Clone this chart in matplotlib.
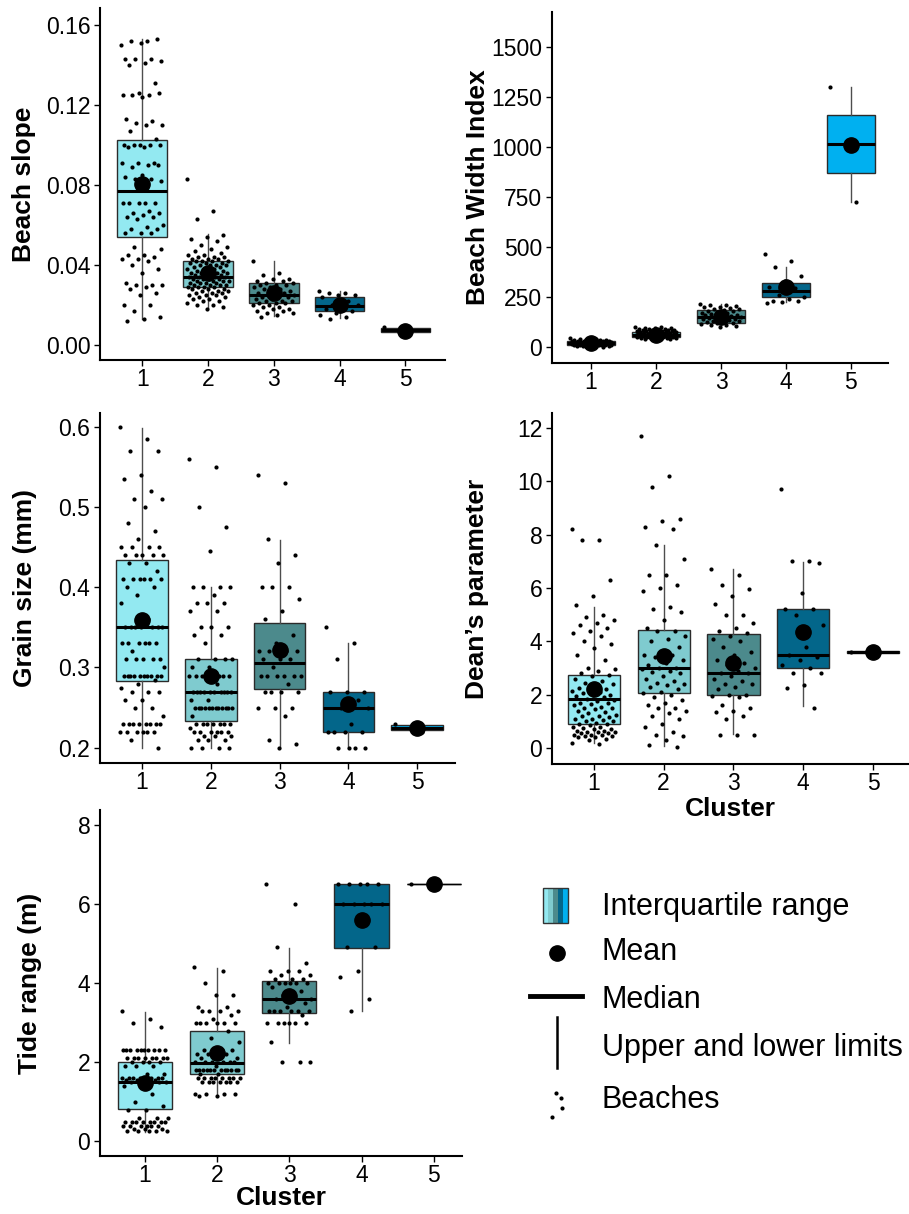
import matplotlib
matplotlib.use("Agg")
import matplotlib.pyplot as plt
import numpy as np

plt.rcParams['font.family'] = ['Liberation Sans', 'DejaVu Sans']

clusters = [1, 2, 3, 4, 5]
box_colors = ["#93E9F1", "#7FCBCF", "#4C8A8C", "#03668A", "#00B0F0"]

# ---- Beach slope ----
slope_pts = [
    [0.150, 0.152, 0.152, 0.153, 0.151, 0.143, 0.143, 0.143, 0.142, 0.141, 0.140, 0.131, 0.126, 0.125,
     0.125, 0.125, 0.126, 0.124, 0.113, 0.112, 0.111, 0.110, 0.110, 0.107, 0.103, 0.100, 0.100, 0.100,
     0.100, 0.100, 0.099, 0.099, 0.091, 0.091, 0.091, 0.090, 0.089, 0.090, 0.085, 0.084, 0.083, 0.083,
     0.082, 0.071, 0.071, 0.071, 0.071, 0.071, 0.067, 0.066, 0.066, 0.065, 0.064, 0.064, 0.063, 0.060,
     0.059, 0.058, 0.058, 0.056, 0.056, 0.056, 0.049, 0.048, 0.045, 0.045, 0.044, 0.043, 0.043, 0.042,
     0.040, 0.038, 0.036, 0.031, 0.030, 0.030, 0.030, 0.029, 0.028, 0.026, 0.025, 0.020, 0.020, 0.017,
     0.014, 0.013, 0.012],
    [0.083, 0.067, 0.063, 0.055, 0.054, 0.053, 0.052, 0.050, 0.049, 0.048, 0.047, 0.046, 0.045, 0.045,
     0.044, 0.044, 0.044, 0.043, 0.043, 0.043, 0.042, 0.042, 0.042, 0.042, 0.041, 0.041, 0.041, 0.040,
     0.040, 0.040, 0.040, 0.039, 0.039, 0.038, 0.038, 0.038, 0.037, 0.037, 0.037, 0.036, 0.036, 0.036,
     0.036, 0.035, 0.035, 0.035, 0.035, 0.034, 0.034, 0.034, 0.034, 0.033, 0.033, 0.033, 0.033, 0.032,
     0.032, 0.032, 0.032, 0.031, 0.031, 0.031, 0.031, 0.030, 0.030, 0.030, 0.030, 0.029, 0.029, 0.029,
     0.029, 0.028, 0.028, 0.028, 0.027, 0.027, 0.027, 0.026, 0.026, 0.026, 0.025, 0.025, 0.025, 0.024,
     0.024, 0.023, 0.023, 0.022, 0.022, 0.021, 0.020, 0.020, 0.019, 0.018],
    [0.042, 0.036, 0.035, 0.033, 0.033, 0.032, 0.032, 0.031, 0.031, 0.030, 0.030, 0.030, 0.029, 0.029,
     0.028, 0.028, 0.027, 0.027, 0.026, 0.026, 0.025, 0.025, 0.025, 0.024, 0.024, 0.023, 0.023, 0.022,
     0.022, 0.022, 0.021, 0.021, 0.021, 0.020, 0.020, 0.019, 0.019, 0.018, 0.018, 0.017, 0.017, 0.016,
     0.016, 0.015, 0.014],
    [0.027, 0.026, 0.026, 0.025, 0.025, 0.024, 0.022, 0.020, 0.020, 0.019, 0.018, 0.017, 0.016, 0.015,
     0.014, 0.013],
    [0.009, 0.007],
]
slope_q1 = [0.054, 0.029, 0.021, 0.017, 0.0065]
slope_med = [0.077, 0.034, 0.025, 0.0195, 0.0075]
slope_q3 = [0.1025, 0.042, 0.031, 0.024, 0.0085]
slope_lo = [0.013, 0.0185, 0.0145, 0.0135, 0.0065]
slope_hi = [0.153, 0.0555, 0.042, 0.027, 0.0085]
slope_mean = [0.0807, 0.036, 0.026, 0.020, 0.007]

# ---- Beach Width Index ----
width_pts = [
    [45, 40, 38, 36, 35, 34, 33, 32, 31, 30, 30, 29, 28, 28, 27, 27, 26, 26, 25, 25, 25, 24, 24, 23, 23,
     22, 22, 22, 21, 21, 21, 20, 20, 20, 20, 19, 19, 19, 18, 18, 18, 17, 17, 17, 16, 16, 15, 15, 15, 14,
     14, 13, 13, 12, 12, 11, 11, 10, 10, 9, 9, 8, 7, 6, 5, 4, 2, 0],
    [100, 98, 96, 95, 93, 92, 90, 88, 87, 86, 85, 84, 82, 81, 80, 79, 78, 77, 76, 75, 74, 73, 72, 71, 70,
     70, 69, 68, 67, 66, 65, 64, 63, 62, 61, 60, 60, 59, 58, 57, 56, 55, 55, 54, 53, 52, 51, 50, 50, 49,
     48, 47, 46, 45, 44, 43, 42, 41, 40],
    [215, 212, 210, 205, 200, 198, 195, 190, 188, 185, 182, 180, 176, 172, 170, 166, 162, 160, 158, 155,
     152, 150, 148, 145, 142, 140, 138, 135, 132, 130, 127, 124, 122, 118, 115, 112, 108, 104, 100],
    [465, 430, 400, 355, 330, 300, 295, 260, 250, 240, 232, 230, 225, 222],
    [1300, 725],
]
width_q1 = [10, 48, 122, 252, 868]
width_med = [20, 60, 152, 280, 1015]
width_q3 = [30, 77, 185, 318, 1160]
width_lo = [0, 40, 100, 227, 727]
width_hi = [45, 100, 215, 400, 1302]
width_mean = [20, 60, 150, 298, 1012]

# ---- Grain size ----
grain_pts = [
    [0.60, 0.585, 0.57, 0.57, 0.54, 0.535, 0.52, 0.51, 0.51, 0.50, 0.48, 0.47, 0.46, 0.45, 0.45, 0.45,
     0.45, 0.44, 0.44, 0.44, 0.44, 0.44, 0.43, 0.43, 0.42, 0.41, 0.41, 0.41, 0.41, 0.41, 0.41, 0.40, 0.40,
     0.39, 0.38, 0.36, 0.35, 0.35, 0.35, 0.35, 0.35, 0.35, 0.35, 0.33, 0.33, 0.33, 0.33, 0.33, 0.33, 0.32,
     0.31, 0.31, 0.31, 0.31, 0.31, 0.30, 0.29, 0.29, 0.29, 0.29, 0.29, 0.29, 0.29, 0.29, 0.29, 0.29,
     0.285, 0.28, 0.275, 0.27, 0.27, 0.27, 0.26, 0.26, 0.25, 0.25, 0.24, 0.23, 0.23, 0.23, 0.23, 0.23,
     0.23, 0.23, 0.23, 0.22, 0.22, 0.22, 0.22, 0.22, 0.22, 0.21, 0.20],
    [0.56, 0.55, 0.50, 0.475, 0.445, 0.40, 0.40, 0.40, 0.40, 0.39, 0.38, 0.38, 0.38, 0.37, 0.37, 0.35,
     0.35, 0.35, 0.34, 0.34, 0.33, 0.31, 0.31, 0.31, 0.31, 0.30, 0.30, 0.29, 0.29, 0.29, 0.29, 0.29, 0.29,
     0.29, 0.29, 0.28, 0.27, 0.27, 0.27, 0.27, 0.27, 0.27, 0.27, 0.27, 0.27, 0.27, 0.26, 0.26, 0.25, 0.25,
     0.25, 0.25, 0.25, 0.25, 0.25, 0.25, 0.25, 0.25, 0.25, 0.25, 0.24, 0.23, 0.23, 0.23, 0.23, 0.23, 0.23,
     0.23, 0.225, 0.22, 0.22, 0.22, 0.22, 0.22, 0.22, 0.215, 0.215, 0.215, 0.21, 0.21, 0.21, 0.20, 0.20,
     0.20, 0.20],
    [0.54, 0.53, 0.46, 0.44, 0.43, 0.40, 0.40, 0.40, 0.385, 0.37, 0.36, 0.34, 0.33, 0.32, 0.32, 0.32,
     0.32, 0.31, 0.31, 0.31, 0.30, 0.29, 0.29, 0.29, 0.29, 0.29, 0.29, 0.28, 0.27, 0.27, 0.27, 0.27, 0.25,
     0.25, 0.25, 0.24, 0.21, 0.205, 0.20],
    [0.35, 0.33, 0.31, 0.27, 0.27, 0.27, 0.26, 0.25, 0.25, 0.23, 0.22, 0.22, 0.22, 0.22, 0.20, 0.20, 0.20,
     0.20],
    [0.23, 0.22],
]
grain_q1 = [0.283, 0.233, 0.273, 0.220, 0.222]
grain_med = [0.350, 0.270, 0.305, 0.250, 0.225]
grain_q3 = [0.434, 0.310, 0.355, 0.270, 0.228]
grain_lo = [0.20, 0.20, 0.20, 0.20, 0.222]
grain_hi = [0.598, 0.40, 0.459, 0.33, 0.228]
grain_mean = [0.359, 0.289, 0.322, 0.254, 0.225]

# ---- Dean's parameter ----
dean_pts = [
    [8.2, 7.8, 7.8, 6.3, 5.7, 5.35, 5.0, 4.9, 4.8, 4.7, 4.6, 4.5, 4.4, 4.3, 4.2, 4.0, 3.9, 3.75, 3.5, 3.3,
     3.0, 2.95, 2.9, 2.8, 2.75, 2.7, 2.6, 2.5, 2.45, 2.4, 2.3, 2.25, 2.2, 2.2, 2.15, 2.1, 2.05, 2.0, 2.0,
     1.95, 1.9, 1.85, 1.8, 1.75, 1.7, 1.7, 1.65, 1.6, 1.55, 1.5, 1.5, 1.45, 1.4, 1.35, 1.3, 1.25, 1.2,
     1.2, 1.15, 1.1, 1.1, 1.05, 1.0, 1.0, 0.95, 0.9, 0.9, 0.85, 0.8, 0.8, 0.75, 0.7, 0.7, 0.65, 0.65,
     0.6, 0.6, 0.6, 0.55, 0.55, 0.5, 0.5, 0.5, 0.45, 0.45, 0.4, 0.4, 0.35, 0.3, 0.2, 0.15],
    [11.7, 10.2, 9.8, 8.6, 8.5, 8.3, 8.2, 7.6, 7.1, 6.5, 6.5, 6.1, 6.0, 5.9, 5.3, 5.2, 5.1, 4.8, 4.5,
     4.4, 4.4, 4.2, 4.1, 4.0, 3.8, 3.6, 3.5, 3.5, 3.4, 3.3, 3.2, 3.1, 3.0, 3.0, 2.95, 2.9, 2.85, 2.8, 2.7,
     2.6, 2.5, 2.45, 2.4, 2.35, 2.3, 2.2, 2.1, 2.05, 2.0, 1.9, 1.8, 1.7, 1.6, 1.5, 1.5, 1.4, 1.3, 1.2,
     1.1, 0.9, 0.8, 0.6, 0.5, 0.45, 0.3, 0.1, 0.05],
    [6.7, 6.5, 6.1, 5.95, 5.7, 5.4, 5.0, 5.0, 4.7, 4.5, 4.4, 4.3, 4.2, 4.1, 4.0, 3.8, 3.6, 3.5, 3.3,
     3.2, 3.1, 3.0, 2.9, 2.8, 2.8, 2.7, 2.6, 2.5, 2.4, 2.4, 2.3, 2.2, 2.0, 2.0, 1.95, 1.9, 1.6, 1.5, 1.4,
     1.35, 1.2, 1.1, 0.5, 0.5, 0.5],
    [9.7, 7.0, 7.0, 6.95, 5.8, 5.2, 5.2, 5.0, 4.6, 3.8, 3.5, 3.4, 3.3, 3.1, 3.0, 2.8, 2.8, 2.35, 2.25,
     1.5],
    [3.6],
]
dean_q1 = [0.90, 2.05, 1.99, 3.00, 3.56]
dean_med = [1.85, 2.99, 2.80, 3.48, 3.59]
dean_q3 = [2.75, 4.44, 4.29, 5.20, 3.62]
dean_lo = [0.19, 0.06, 0.52, 1.56, 3.56]
dean_hi = [5.30, 7.60, 6.71, 6.98, 3.62]
dean_mean = [2.22, 3.46, 3.19, 4.34, 3.59]

# ---- Tide range ----
tide_pts = [
    [3.3, 3.1, 3.0, 2.9, 2.3, 2.3, 2.3, 2.3, 2.3, 2.3, 2.3, 2.3, 2.3, 2.3, 2.1, 2.1, 2.1, 2.1, 2.1, 2.1,
     2.1, 2.1, 2.0, 2.0, 2.0, 2.0, 1.9, 1.9, 1.9, 1.7, 1.7, 1.6, 1.6, 1.6, 1.6, 1.6, 1.6, 1.6, 1.6, 1.55,
     1.55, 1.55, 1.5, 1.5, 1.5, 1.5, 1.5, 1.4, 1.2, 1.0, 0.9, 0.8, 0.8, 0.6, 0.6, 0.6, 0.5, 0.5, 0.5,
     0.5, 0.5, 0.5, 0.5, 0.5, 0.4, 0.4, 0.4, 0.4, 0.4, 0.4, 0.3, 0.3, 0.3, 0.25, 0.25, 0.25, 0.25, 0.25],
    [4.4, 4.3, 4.0, 3.7, 3.7, 3.4, 3.4, 3.3, 3.3, 3.3, 3.3, 3.2, 3.1, 3.0, 3.0, 3.0, 3.0, 3.0, 3.0, 2.8,
     2.6, 2.5, 2.3, 2.3, 2.3, 2.2, 2.2, 2.2, 2.2, 2.1, 2.1, 2.1, 2.0, 2.0, 2.0, 2.0, 2.0, 2.0, 1.9, 1.8,
     1.8, 1.8, 1.8, 1.8, 1.8, 1.8, 1.8, 1.8, 1.8, 1.8, 1.8, 1.7, 1.7, 1.6, 1.6, 1.6, 1.6, 1.6, 1.6, 1.6,
     1.6, 1.5, 1.5, 1.5, 1.5, 1.5, 1.5, 1.5, 1.2, 1.2, 1.2, 1.2, 1.15, 1.15],
    [6.5, 6.0, 4.9, 4.5, 4.3, 4.3, 4.3, 4.2, 4.2, 4.1, 4.1, 4.1, 4.0, 4.0, 4.0, 4.0, 4.0, 4.0, 3.9, 3.8,
     3.7, 3.6, 3.6, 3.6, 3.5, 3.4, 3.3, 3.3, 3.3, 3.3, 3.3, 3.3, 3.2, 3.0, 3.0, 3.0, 3.0, 3.0, 3.0, 2.5,
     2.0, 2.0, 2.0],
    [6.5, 6.5, 6.5, 6.5, 6.5, 6.0, 6.0, 6.0, 6.0, 6.0, 4.9, 4.9, 4.3, 4.15, 3.6, 3.3],
    [6.5, 6.5],
]
tide_q1 = [0.81, 1.71, 3.24, 4.88, 6.5]
tide_med = [1.50, 1.99, 3.60, 5.99, 6.5]
tide_q3 = [2.00, 2.80, 4.04, 6.49, 6.5]
tide_lo = [0.23, 1.19, 2.49, 3.30, 6.5]
tide_hi = [3.28, 4.39, 4.88, 6.50, 6.5]
tide_mean = [1.48, 2.23, 3.68, 5.60, 6.5]

W, H = 909, 1214
fig = plt.figure(figsize=(W / 100, H / 100), dpi=100)


def px_axes(left, top, right, bottom):
    return fig.add_axes([left / W, 1 - bottom / H, (right - left) / W, (bottom - top) / H])


def jitter(n, w=0.32):
    return (((np.arange(n) * 0.618034) % 1.0) - 0.5) * 2 * w


def panel(ax, pts, q1, med, q3, lo, hi, mean, ylabel, yticks, yticklabels, ylim, xlim,
          label_x, xlabel=None, xlabel_pad=0, last_thin=False):
    stats = []
    for i in range(5):
        stats.append(dict(med=med[i], q1=q1[i], q3=q3[i], whislo=lo[i], whishi=hi[i], fliers=[]))
    b = ax.bxp(stats, positions=clusters, widths=0.75, patch_artist=True, showcaps=False,
               boxprops=dict(edgecolor="#2b2b2b", linewidth=1.0),
               whiskerprops=dict(color="#4d4d4d", linewidth=1.0),
               medianprops=dict(color="black", linewidth=2.2))
    for patch, c in zip(b["boxes"], box_colors):
        patch.set_facecolor(c)
    if last_thin:
        b["medians"][4].set_linewidth(1.0)
        b["boxes"][4].set_edgecolor("black")
    for i, vals in enumerate(pts):
        x = clusters[i] + jitter(len(vals))
        ax.scatter(x, vals, s=9, color="black", linewidths=0, zorder=4)
    ax.plot(clusters, mean, "o", color="black", markersize=11, zorder=5, linestyle="none")
    ax.set_xlim(*xlim)
    ax.set_ylim(*ylim)
    ax.set_yticks(yticks)
    ax.set_yticklabels(yticklabels)
    ax.set_xticks(clusters)
    ax.set_xticklabels([str(c) for c in clusters])
    for s in ["top", "right"]:
        ax.spines[s].set_visible(False)
    for s in ["left", "bottom"]:
        ax.spines[s].set_linewidth(1.5)
        ax.spines[s].set_color("black")
    ax.tick_params(labelsize=16.5, length=4, width=1, colors="black", pad=3)
    ax.tick_params(axis="x", pad=2)
    ax.set_ylabel(ylabel, fontsize=19, fontweight="bold")
    # place the y title at a fixed figure x (right edge of the rotated text)
    left_px = ax.get_position().x0 * W
    width_px = ax.get_position().width * W
    ax.yaxis.set_label_coords((label_x - left_px) / width_px, 0.5)
    if xlabel:
        ax.set_xlabel(xlabel, fontsize=19, fontweight="bold", labelpad=xlabel_pad)


ax1 = px_axes(100, 8, 445, 360)
panel(ax1, slope_pts, slope_q1, slope_med, slope_q3, slope_lo, slope_hi, slope_mean,
      "Beach slope", [0, 0.04, 0.08, 0.12, 0.16], ["0.00", "0.04", "0.08", "0.12", "0.16"],
      (-0.0075, 0.1685), (0.36, 5.6), label_x=36)

ax2 = px_axes(552, 12, 888, 363)
panel(ax2, width_pts, width_q1, width_med, width_q3, width_lo, width_hi, width_mean,
      "Beach Width Index", [0, 250, 500, 750, 1000, 1250, 1500],
      ["0", "250", "500", "750", "1000", "1250", "1500"], (-80, 1675), (0.4, 5.57), label_x=490)

ax3 = px_axes(100, 413, 455, 763)
panel(ax3, grain_pts, grain_q1, grain_med, grain_q3, grain_lo, grain_hi, grain_mean,
      "Grain size (mm)", [0.2, 0.3, 0.4, 0.5, 0.6], ["0.2", "0.3", "0.4", "0.5", "0.6"],
      (0.181, 0.617), (0.39, 5.55), label_x=37)

ax4 = px_axes(552, 413, 908, 764)
panel(ax4, dean_pts, dean_q1, dean_med, dean_q3, dean_lo, dean_hi, dean_mean,
      "Dean\u2019s parameter", [0, 2, 4, 6, 8, 10, 12], ["0", "2", "4", "6", "8", "10", "12"],
      (-0.6, 12.56), (0.4, 5.5), label_x=489, xlabel="Cluster", xlabel_pad=1)

ax5 = px_axes(100, 810, 462, 1156)
panel(ax5, tide_pts, tide_q1, tide_med, tide_q3, tide_lo, tide_hi, tide_mean,
      "Tide range (m)", [0, 2, 4, 6, 8], ["0", "2", "4", "6", "8"],
      (-0.37, 8.37), (0.38, 5.39), label_x=42, xlabel="Cluster", xlabel_pad=-1, last_thin=True)

# ---- Legend panel ----
leg = fig.add_axes([0, 0, 1, 1], zorder=-1)
leg.set_xlim(0, W)
leg.set_ylim(H, 0)
leg.axis("off")
stripe_w = 25 / 5
for i, c in enumerate(box_colors):
    leg.add_patch(plt.Rectangle((543 + i * stripe_w, 888), stripe_w, 35, facecolor=c, edgecolor="none"))
leg.add_patch(plt.Rectangle((543, 888), 25, 35, facecolor="none", edgecolor="#333333", linewidth=1))
leg.plot([557], [953], "o", color="black", markersize=11)
leg.plot([530, 582], [996, 996], color="black", linewidth=3.5)
leg.plot([557, 557], [1017, 1068], color="black", linewidth=1.8)
leg.scatter([556, 561, 562, 552], [1093, 1098, 1108, 1117], s=9, color="black", linewidths=0)
leg_labels = ["Interquartile range", "Mean", "Median", "Upper and lower limits", "Beaches"]
leg_y = [907, 952, 1000, 1048, 1100]
for lab, y in zip(leg_labels, leg_y):
    leg.text(602, y, lab, fontsize=22, va="center", ha="left", color="black")

fig.savefig("out.png", dpi=100)
